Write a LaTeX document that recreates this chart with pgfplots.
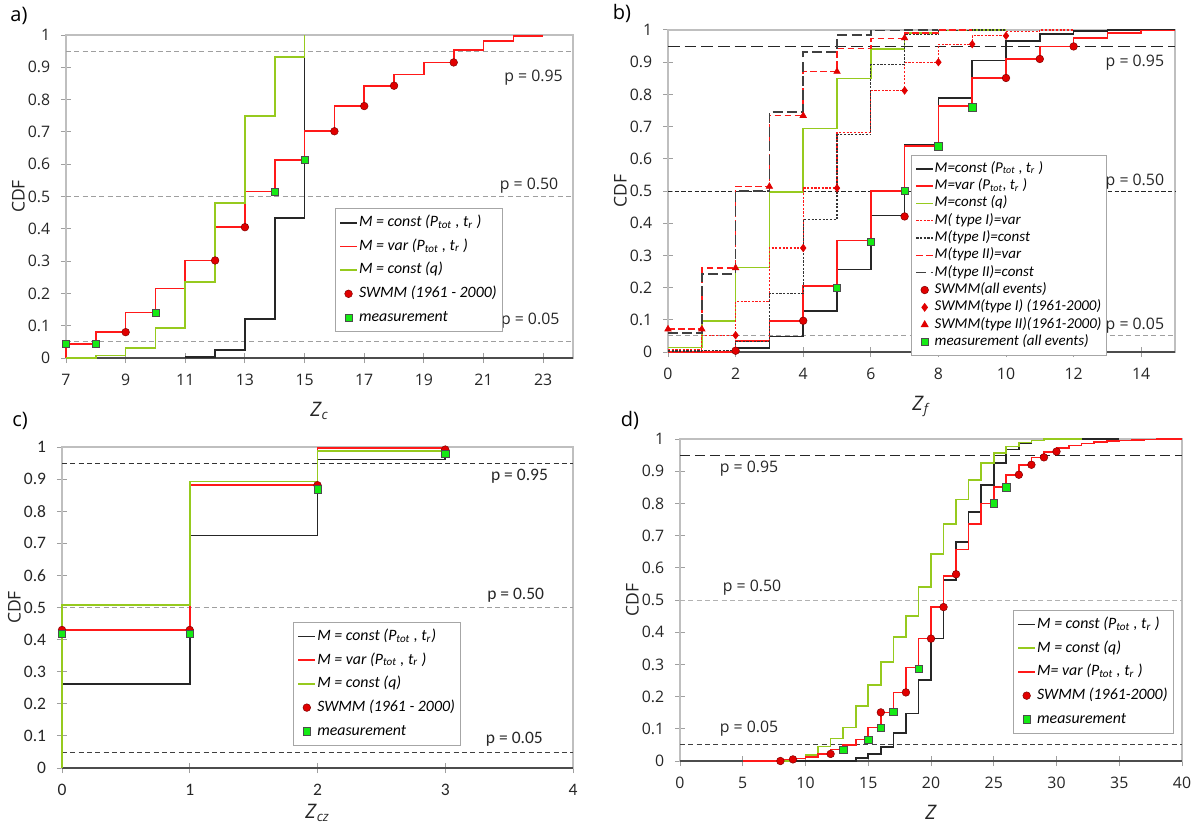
\documentclass[border=0pt]{standalone}
\usepackage{fontspec}
\setmainfont{Open Sans}
\newfontfamily\calfont{Carlito}
\usepackage{pgfplots}
\pgfplotsset{compat=1.18}

\definecolor{lgreen}{RGB}{150,202,30}
\definecolor{mgreen}{RGB}{20,235,20}
\definecolor{cred}{RGB}{255,25,25}
\definecolor{dred}{RGB}{225,0,0}

\tikzset{plab/.style={font=\fontsize{9.5}{11}\selectfont, black!85}}
\pgfplotsset{
  cdf/.style={
    scale only axis, anchor=south west, clip=false,
    ymin=0, ymax=1,
    ytick={0,0.1,0.2,0.3,0.4,0.5,0.6,0.7,0.8,0.9,1},
    tick align=center, major tick length=6pt,
    xtick pos=bottom, ytick pos=left,
    axis line style={gray!50, line width=0.9pt},
    every tick/.style={gray!75, line width=0.6pt},
    tick label style={font=\fontsize{9.5}{11}\selectfont, black!85},
    yticklabel style={xshift=-3pt},
    xticklabel style={yshift=-3pt},
    /pgf/number format/assume math mode=true,
    ylabel={CDF}, ylabel shift=-5pt, xlabel shift=3pt,
    ylabel style={font=\fontsize{10.5}{12}\selectfont, black!85},
    xlabel style={font=\fontsize{12}{13}\selectfont, black!85},
    legend cell align=left,
    legend style={draw=gray!70, line width=0.6pt, fill=white,
      font=\calfont\itshape\fontsize{9.5}{10}\selectfont,
      nodes={inner sep=0.8pt, text height=7pt, text depth=2.4pt},
      row sep=3.2pt, inner xsep=2.5pt, inner ysep=3pt},
    legend image code/.code={\draw[mark repeat=2,mark phase=2,##1] plot coordinates {(0pt,0pt)(5pt,0pt)(10pt,0pt)};},
  },
  stp/.style={const plot mark right, mark=none, line width=1pt},
  swmm/.style={only marks, mark=*, mark size=2.3pt, mark options={fill=dred, draw=red!50!black, line width=0.3pt}},
  meas/.style={only marks, mark=square*, mark size=2.2pt, mark options={fill=mgreen, draw=black!70, line width=0.3pt}},
  pline/.style={forget plot, gray!75, line width=0.6pt, dash pattern=on 3pt off 2pt},
  base/.style={forget plot, black!70, line width=0.8pt},
}

\begin{document}
\begin{tikzpicture}
\useasboundingbox (0,0) rectangle (717pt,-497.4pt);

\node[font=\fontsize{12}{14}\selectfont] at (11.4pt,-9.6pt) {a)};
\node[font=\fontsize{12}{14}\selectfont] at (373.2pt,-7.8pt) {b)};
\node[font=\fontsize{12}{14}\selectfont] at (12pt,-252.6pt) {c)};
\node[font=\fontsize{12}{14}\selectfont] at (378pt,-252pt) {d)};

% ---------------- a)
\begin{axis}[cdf, at={(39.6pt,-214.8pt)}, width=304.2pt, height=193.8pt,
  xmin=7, xmax=24, xtick={7,9,11,13,15,17,19,21,23},
  xlabel={\textit{Z}\textsubscript{\textit{c}}},
  legend style={at={(axis description cs:0.53,0.464)}, anchor=north west}]
\addplot[pline] coordinates {(7,0.95)(24,0.95)};
\addplot[pline] coordinates {(7,0.5)(24,0.5)};
\addplot[pline] coordinates {(7,0.05)(24,0.05)};
\addplot[base] coordinates {(7,0)(24,0)};
\addplot[stp, black!85] coordinates {(11,0.003)(12,0.003)(13,0.025)(14,0.12)(15,0.434)(15,1)};
\addlegendentry{M = const (P\textsubscript{tot} , t\textsubscript{r} )}
\addplot[stp, cred] coordinates {(7,0)(8,0.044)(9,0.08)(10,0.141)(11,0.215)(12,0.302)(13,0.405)(14,0.515)(15,0.613)(16,0.702)(17,0.78)(18,0.843)(19,0.878)(20,0.915)(21,0.954)(22,0.982)(23,0.997)};
\addlegendentry{M = var (P\textsubscript{tot} , t\textsubscript{r} )}
\addplot[stp, lgreen] coordinates {(7,0)(8,0)(9,0.008)(10,0.03)(11,0.092)(12,0.235)(13,0.479)(14,0.749)(15,0.932)(15,1)};
\addlegendentry{M = const (q)}
\addplot[swmm] coordinates {(9,0.08)(12,0.302)(13,0.405)(16,0.702)(17,0.78)(18,0.843)(20,0.915)};
\addlegendentry{SWMM (1961 - 2000)}
\addplot[meas] coordinates {(7,0.044)(8,0.044)(10,0.141)(14,0.515)(15,0.613)};
\addlegendentry{measurement}
\node[plab, anchor=east] at (axis cs:23.85,0.867) {p = 0.95};
\node[plab, anchor=east] at (axis cs:23.7,0.533) {p = 0.50};
\node[plab, anchor=east] at (axis cs:23.74,0.116) {p = 0.05};
\end{axis}

% ---------------- b)
\begin{axis}[cdf, at={(400.8pt,-211.2pt)}, width=304.2pt, height=193.2pt,
  xmin=0, xmax=15, xtick={0,2,4,6,8,10,12,14},
  xlabel={\textit{Z}\textsubscript{\textit{f}}},
  legend style={at={(axis description cs:0.479,0.612)}, anchor=north west,
    font=\calfont\itshape\fontsize{9}{10}\selectfont,
    nodes={inner sep=0.5pt, text height=6.6pt, text depth=2.3pt}, row sep=0.5pt}]
\addplot[forget plot, black!85, line width=0.7pt, dash pattern=on 7pt off 3pt] coordinates {(0,0.95)(15,0.95)};
\addplot[forget plot, black!85, line width=0.5pt, dash pattern=on 2.5pt off 1.5pt] coordinates {(0,0.5)(15,0.5)};
\addplot[pline] coordinates {(0,0.05)(15,0.05)};
\addplot[base] coordinates {(0,0)(15,0)};
\addplot[stp, black!85] coordinates {(0,0)(1,0)(2,0)(3,0.012)(4,0.048)(5,0.127)(6,0.256)(7,0.424)(8,0.644)(9,0.788)(10,0.905)(11,0.965)(12,0.988)(13,0.997)(15,1)};
\addlegendentry{M=const (P\textsubscript{tot} , t\textsubscript{r} )}
\addplot[stp, cred] coordinates {(0,0)(1,0)(2,0)(3,0.035)(4,0.097)(5,0.204)(6,0.346)(7,0.5)(8,0.64)(9,0.763)(10,0.851)(11,0.91)(12,0.949)(13,0.975)(14,0.99)(15,0.998)};
\addlegendentry{M=var (P\textsubscript{tot}, t\textsubscript{r} )}
\addplot[stp, lgreen] coordinates {(0,0.014)(1,0.014)(2,0.097)(3,0.262)(4,0.497)(5,0.694)(6,0.849)(7,0.941)(8,0.99)(9,0.998)(10,1)};
\addlegendentry{M=const (q)}
\addplot[stp, cred, line width=0.8pt, dash pattern=on 1.3pt off 0.9pt] coordinates {(0,0.007)(1,0.007)(2,0.052)(3,0.157)(4,0.323)(5,0.509)(6,0.682)(7,0.812)(8,0.9)(9,0.956)(10,0.982)(11,0.995)(12,1)};
\addlegendentry{M( type I)=var}
\addplot[stp, black!80, line width=0.8pt, dash pattern=on 1.3pt off 0.9pt] coordinates {(0,0.003)(1,0.003)(2,0.004)(3,0.033)(4,0.181)(5,0.411)(6,0.675)(7,0.892)(8,0.985)(9,0.998)(10,1)};
\addlegendentry{M(type I)=const}
\addplot[stp, cred, line width=0.9pt, dash pattern=on 4pt off 2pt] coordinates {(0,0.071)(1,0.071)(2,0.261)(3,0.514)(4,0.734)(5,0.871)(6,0.942)(7,0.973)(8,0.99)(9,1)};
\addlegendentry{M(type II)=var}
\addplot[stp, black!75, line width=0.9pt, dash pattern=on 6pt off 2.5pt] coordinates {(0,0.059)(1,0.059)(2,0.243)(3,0.5)(4,0.746)(5,0.932)(6,0.985)(7,0.999)(8,1)};
\addlegendentry{M(type II)=const}
\addplot[swmm] coordinates {(2,0.004)(4,0.097)(7,0.421)(10,0.851)(11,0.91)(12,0.949)};
\addlegendentry{SWMM(all events)}
\addplot[only marks, mark=diamond*, mark size=2.2pt, mark options={fill=dred, draw=dred}] coordinates {(2,0.052)(4,0.323)(5,0.509)(7,0.812)(8,0.9)(9,0.956)(10,0.982)};
\addlegendentry{SWMM(type I) (1961-2000)}
\addplot[only marks, mark=triangle*, mark size=2.2pt, mark options={fill=dred, draw=dred}] coordinates {(0,0.071)(1,0.071)(2,0.261)(3,0.514)(4,0.734)(5,0.871)(7,0.975)};
\addlegendentry{SWMM(type II)(1961-2000)}
\addplot[meas] coordinates {(5,0.2)(6,0.342)(7,0.5)(8,0.639)(9,0.76)};
\addlegendentry{measurement (all events)}
\node[plab, anchor=east] at (axis cs:14.85,0.9) {p = 0.95};
\node[plab, anchor=east] at (axis cs:14.85,0.528) {p = 0.50};
\node[plab, anchor=east] at (axis cs:14.85,0.081) {p = 0.05};
\end{axis}

% ---------------- c)
\begin{axis}[cdf, at={(37.2pt,-460.8pt)}, width=306.6pt, height=192.6pt,
  xmin=0, xmax=4, xtick={0,1,2,3,4},
  tick label style={font=\calfont\fontsize{10.5}{12}\selectfont},
  xlabel={\textit{Z}\textsubscript{\textit{cz}}}, xlabel shift=-1.5pt,
  legend style={at={(axis description cs:0.452,0.455)}, anchor=north west}]
\addplot[forget plot, black!80, line width=0.6pt, dash pattern=on 3pt off 2pt] coordinates {(0,0.95)(4,0.95)};
\addplot[pline] coordinates {(0,0.5)(4,0.5)};
\addplot[forget plot, black!75, line width=0.5pt, dash pattern=on 3pt off 2pt] coordinates {(0,0.05)(4,0.05)};
\addplot[base] coordinates {(0,0)(4,0)};
\addplot[stp, black!85] coordinates {(0,0)(1,0.261)(2,0.724)(3,0.961)(3,0.99)};
\addlegendentry{M = const (P\textsubscript{tot} , t\textsubscript{r})}
\addplot[stp, cred] coordinates {(0,0)(1,0.43)(2,0.881)(3,0.997)};
\addlegendentry{M = var (P\textsubscript{tot} , t\textsubscript{r} )}
\addplot[stp, lgreen] coordinates {(0,0)(1,0.508)(2,0.893)(3,0.988)};
\addlegendentry{M = const (q)}
\addplot[swmm] coordinates {(0,0.43)(1,0.43)(2,0.881)(3,0.992)};
\addlegendentry{SWMM (1961 - 2000)}
\addplot[meas] coordinates {(0,0.418)(1,0.418)(2,0.868)(3,0.978)};
\addlegendentry{measurement}
\node[plab, font=\calfont\fontsize{10.5}{12}\selectfont, anchor=east] at (axis cs:3.85,0.909) {p = 0.95};
\node[plab, font=\calfont\fontsize{10.5}{12}\selectfont, anchor=east] at (axis cs:3.82,0.539) {p = 0.50};
\node[plab, font=\calfont\fontsize{10.5}{12}\selectfont, anchor=east] at (axis cs:3.81,0.09) {p = 0.05};
\end{axis}

% ---------------- d)
\begin{axis}[cdf, at={(408pt,-456.6pt)}, width=301.2pt, height=193.2pt,
  xmin=0, xmax=40, xtick={0,5,10,15,20,25,30,35,40},
  xlabel={\textit{Z}},
  legend style={at={(axis description cs:0.663,0.469)}, anchor=north west}]
\addplot[forget plot, black!85, line width=0.7pt, dash pattern=on 6pt off 3pt] coordinates {(0,0.95)(40,0.95)};
\addplot[pline, gray!60] coordinates {(0,0.5)(40,0.5)};
\addplot[forget plot, black!75, line width=0.5pt, dash pattern=on 3pt off 2pt] coordinates {(0,0.05)(40,0.05)};
\addplot[base] coordinates {(0,0)(40,0)};
\addplot[stp, black!85] coordinates {(8,0)(14,0)(15,0.01)(16,0.021)(17,0.043)(18,0.088)(19,0.148)(20,0.251)(21,0.38)(22,0.563)(23,0.68)(24,0.773)(25,0.858)(26,0.925)(27,0.967)(28,0.987)(29,0.995)(32,1)(35,1)};
\addlegendentry{M = const (P\textsubscript{tot} , t\textsubscript{r} )}
\addplot[stp, lgreen] coordinates {(5,0)(9,0)(10,0.008)(11,0.019)(12,0.045)(13,0.07)(14,0.104)(15,0.171)(16,0.236)(17,0.308)(18,0.385)(19,0.45)(20,0.54)(21,0.642)(22,0.737)(23,0.812)(24,0.873)(25,0.925)(26,0.957)(27,0.977)(28,0.989)(29,0.995)(32,1)};
\addlegendentry{M = const (q)}
\addplot[stp, cred] coordinates {(5,0)(8,0)(9,0.005)(10,0.008)(11,0.012)(12,0.021)(13,0.036)(14,0.05)(15,0.067)(16,0.104)(17,0.151)(18,0.213)(19,0.29)(20,0.38)(21,0.478)(22,0.575)(23,0.657)(24,0.737)(25,0.8)(26,0.85)(27,0.889)(28,0.92)(29,0.943)(30,0.96)(31,0.972)(32,0.98)(33,0.986)(34,0.99)(35,0.993)(36,0.995)(37,0.997)(38,0.998)(40,0.999)};
\addlegendentry{M= var (P\textsubscript{tot} , t\textsubscript{r} )}
\addplot[swmm] coordinates {(8,0)(9,0.005)(12,0.022)(16,0.151)(18,0.213)(20,0.38)(21,0.478)(22,0.58)(27,0.889)(28,0.92)(29,0.943)(30,0.961)};
\addlegendentry{SWMM (1961-2000)}
\addplot[meas] coordinates {(13,0.036)(15,0.067)(16,0.104)(17,0.153)(19,0.287)(25,0.8)(26,0.85)};
\addlegendentry{measurement}
\node[plab, anchor=west] at (axis cs:2.7,0.909) {p = 0.95};
\node[plab, anchor=west] at (axis cs:2.95,0.539) {p = 0.50};
\node[plab, anchor=west] at (axis cs:2.7,0.099) {p = 0.05};
\end{axis}
\end{tikzpicture}
\end{document}
